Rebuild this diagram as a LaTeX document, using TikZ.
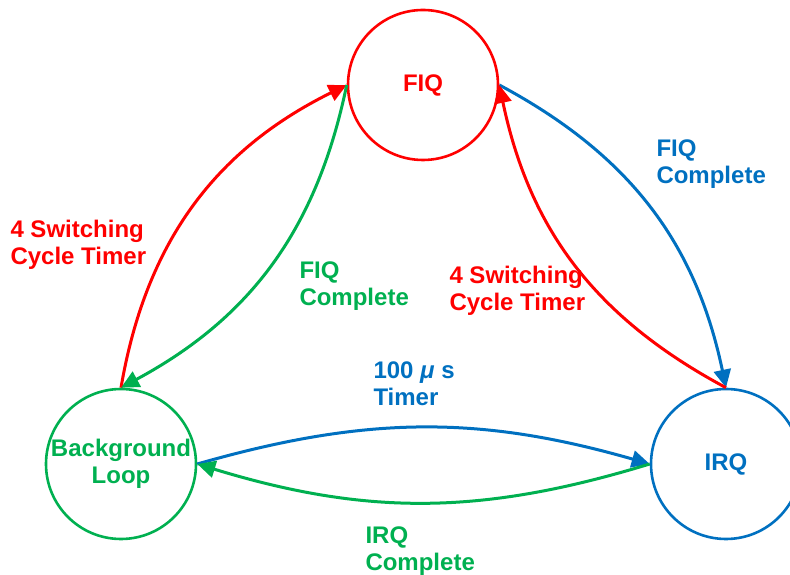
\documentclass[tikz,border=0pt]{standalone}
\usepackage{fontspec}
\setmainfont{Liberation Sans}
\usepackage{tikz}
\usetikzlibrary{automata,arrows.meta}
\definecolor{fiqred}{RGB}{255,0,0}
\definecolor{bggreen}{RGB}{0,176,80}
\definecolor{irqblue}{RGB}{0,112,192}

\begin{document}
\begin{tikzpicture}[x=1pt, y=1pt, >={Triangle[length=18pt,width=17pt]}, line width=3pt, font=\bfseries\fontsize{24}{27}\selectfont]
		\tikzstyle{every state}=[draw, fill=none, line width=2.6pt, inner sep=0pt, minimum size=150pt, align=center]
		\tikzstyle{lbl}=[align=left, anchor=west, inner sep=0pt]
		\useasboundingbox (0,0) rectangle (790,575);

		\node[state,draw=fiqred,text=fiqred] (fiq) at (423,490) {FIQ};
		\node[state,draw=bggreen,text=bggreen] (bg) at (121,111) {Background\\Loop};
		\node[state,draw=irqblue,text=irqblue] (irq) at (726,111) {IRQ};

		\path (bg.north) edge[->, fiqred, bend left=27] (fiq.west);
		\path (fiq.west) edge[->, bggreen, bend left=25] (bg.north);
		\path (fiq.east) edge[->, irqblue, bend left=25] (irq.north);
		\path (irq.north) edge[->, fiqred, bend left=25] (fiq.east);
		\path (bg.east) edge[->, irqblue, bend left=16] (irq.west);
		\path (irq.west) edge[->, bggreen, bend left=17] (bg.east);

		\node[lbl,text=fiqred] (bgtimer) at (9,330) {4 Switching\\Cycle Timer};
		\node[lbl,text=bggreen] (fiqdone) at (298,289) {FIQ\\Complete};
		\node[lbl,text=irqblue] (fiqdoneirq) at (655,411) {FIQ\\Complete};
		\node[lbl,text=fiqred] (irqtimer) at (448,284) {4 Switching\\Cycle Timer};
		\node[lbl,text=irqblue] (tick) at (372,191) {100 \textit{μ} s\\Timer};
		\node[lbl,text=bggreen] (irqdone) at (364,24) {IRQ\\Complete};
	\end{tikzpicture}
\end{document}
